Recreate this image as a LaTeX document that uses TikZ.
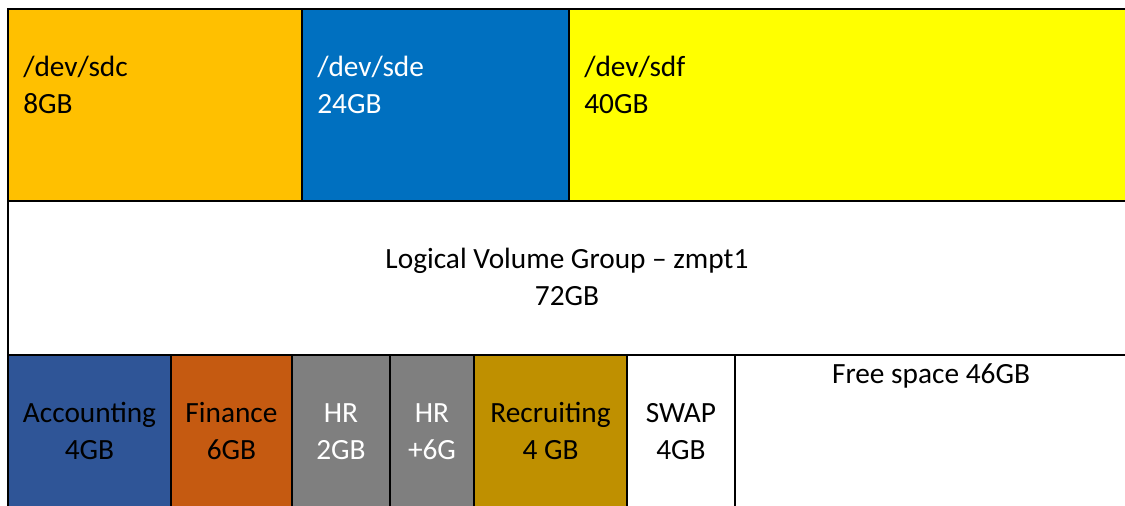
\documentclass[tikz,border=0pt]{standalone}
\usepackage{fontspec}
\setmainfont{Carlito}
\definecolor{sdcorange}{HTML}{FFC000}
\definecolor{sdeblue}{HTML}{0070C0}
\definecolor{sdfyellow}{HTML}{FFFF00}
\definecolor{acctblue}{HTML}{2F5597}
\definecolor{finorange}{HTML}{C55A11}
\definecolor{hrgray}{HTML}{7F7F7F}
\definecolor{recgold}{HTML}{BF9000}

\begin{document}
\begin{tikzpicture}[x=0.75pt,y=-0.75pt,
    cell/.style={draw=black,line width=1.5pt},
    lbl/.style={font=\fontsize{22}{27.75}\selectfont,inner sep=0pt,anchor=base},
    disk/.style={lbl,align=left,anchor=base west}]
            \useasboundingbox (0,0) rectangle (1125,506);
            \clip (0,0) rectangle (1125,506);

            % physical disks
            \draw[cell,fill=sdcorange] (8,9) rectangle (302,201);
            \draw[cell,fill=sdeblue] (302,9) rectangle (569,201);
            \draw[cell,fill=sdfyellow] (569,9) rectangle (1140,201);
            \node[disk] (sdc) at (23,114) {/dev/sdc\\8GB};
            \node[disk,text=white] (sde) at (317,114) {/dev/sde\\24GB};
            \node[disk] (sdf) at (584,114) {/dev/sdf\\40GB};

            % volume group
            \draw[cell,fill=white] (8,201) rectangle (1140,355);
            \node[lbl,align=center] (vg) at (567,305) {Logical Volume Group -- zmpt1\\72GB};

            % logical volumes
            \draw[cell,fill=acctblue] (8,355) rectangle (171,520);
            \draw[cell,fill=finorange] (171,355) rectangle (292,520);
            \draw[cell,fill=hrgray] (292,355) rectangle (390,520);
            \draw[cell,fill=hrgray] (390,355) rectangle (474,520);
            \draw[cell,fill=recgold] (474,355) rectangle (627,520);
            \draw[cell,fill=white] (627,355) rectangle (735,520);
            \draw[cell,fill=white] (735,355) rectangle (1140,520);
            \node[lbl,align=center] (acct) at (89.5,459) {Accounting\\4GB};
            \node[lbl,align=center] (fin) at (231.5,459) {Finance\\6GB};
            \node[lbl,align=center,text=white] (hr) at (341,459) {HR\\2GB};
            \node[lbl,align=center,text=white] (hrext) at (432,459) {HR\\+6G};
            \node[lbl,align=center] (rec) at (550.5,459) {Recruiting\\4 GB};
            \node[lbl,align=center] (swap) at (681,459) {SWAP\\4GB};
            \node[lbl] (free) at (931,383) {Free space 46GB};
        \end{tikzpicture}
\end{document}
